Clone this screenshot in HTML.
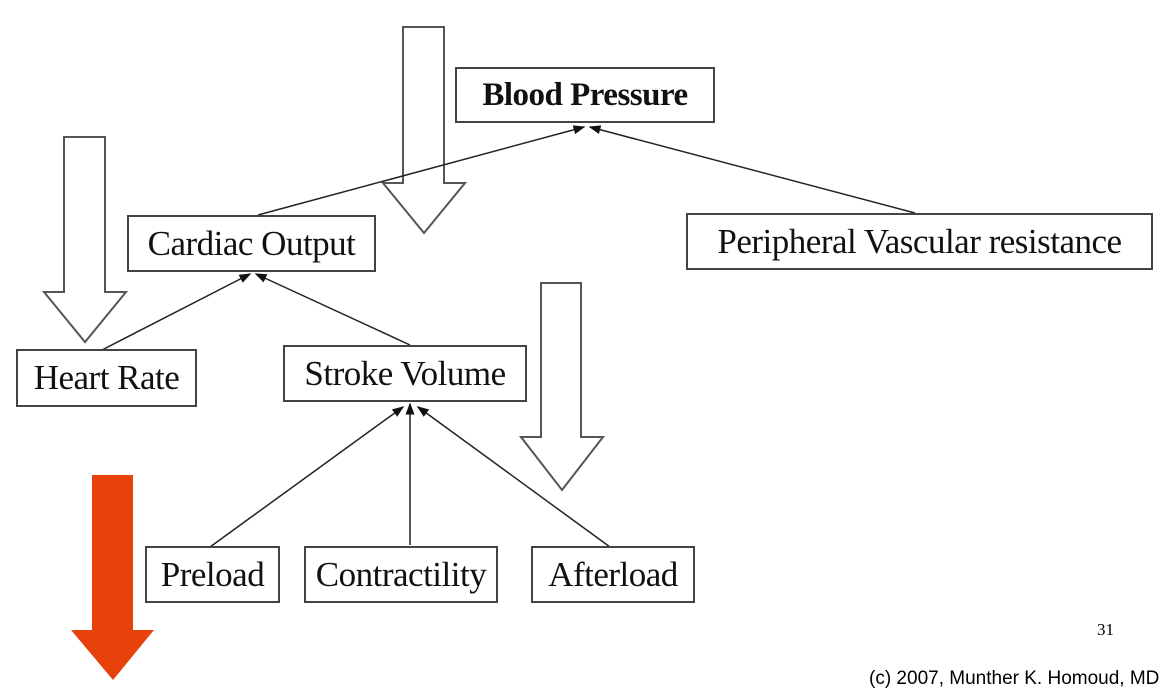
<!DOCTYPE html>
<html><head><style>
body{margin:0;background:#fff;width:1166px;height:690px;overflow:hidden;position:relative;font-family:"Liberation Serif",serif}
.b{position:absolute;border:2px solid #444;box-sizing:border-box;background:#fff;display:flex;align-items:center;justify-content:center;font-size:35px;color:#111;white-space:nowrap;letter-spacing:-0.5px}
svg{position:absolute;left:0;top:0}
</style></head><body>
<svg width="1166" height="690">
<defs><marker id="m" markerWidth="8" markerHeight="8" refX="7" refY="4" orient="auto"><path d="M0,1 L8,4 L0,7z" fill="#111"/></marker></defs>
<g fill="#fff" stroke="#555" stroke-width="2">
<path d="M403,27 H444 V183 H465 L424,233 L383,183 H403Z"/>
<path d="M64,137 H105 V292 H126 L85,342 L44,292 H64Z"/>
<path d="M541,283 H581 V437 H603 L562,490 L521,437 H541Z"/>
</g>
<path d="M92,475 H133 V630 H154 L113,680 L71,630 H92Z" fill="#e8420c"/>
<g stroke="#222" stroke-width="1.5" fill="none" marker-end="url(#m)">
<line x1="258" y1="215" x2="584" y2="127"/>
<line x1="915" y1="213" x2="590" y2="127"/>
<line x1="100" y1="351" x2="250" y2="274"/>
<line x1="410" y1="345" x2="256" y2="274"/>
<line x1="210" y1="547" x2="403" y2="407"/>
<line x1="410" y1="545" x2="410" y2="404"/>
<line x1="610" y1="547" x2="418" y2="407"/>
</g>
</svg>
<div class="b" style="left:455px;top:67px;width:260px;height:56px;font-weight:bold;font-size:33px">Blood Pressure</div>
<div class="b" style="left:127px;top:215px;width:249px;height:57px">Cardiac Output</div>
<div class="b" style="left:686px;top:213px;width:467px;height:57px">Peripheral Vascular resistance</div>
<div class="b" style="left:16px;top:349px;width:181px;height:58px">Heart Rate</div>
<div class="b" style="left:283px;top:345px;width:244px;height:57px">Stroke Volume</div>
<div class="b" style="left:145px;top:546px;width:135px;height:57px">Preload</div>
<div class="b" style="left:304px;top:546px;width:194px;height:57px">Contractility</div>
<div class="b" style="left:531px;top:546px;width:164px;height:57px">Afterload</div>
<div style="position:absolute;left:1097px;top:620px;font-size:17px">31</div>
<div style="position:absolute;left:869px;top:668px;font-size:19px;font-family:'Liberation Sans',sans-serif;white-space:nowrap">(c) 2007, Munther K. Homoud, MD</div>
</body></html>
